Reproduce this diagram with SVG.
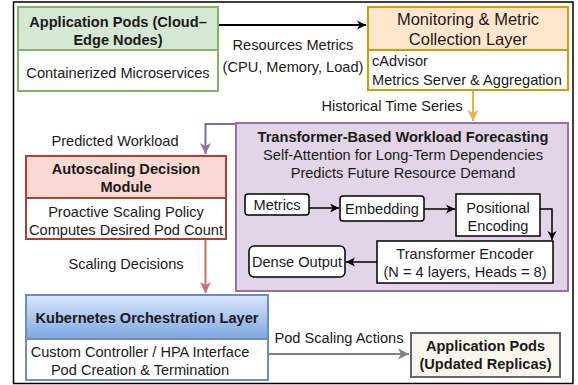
<svg xmlns="http://www.w3.org/2000/svg" width="578" height="385" viewBox="0 0 578 385">
<defs>
<linearGradient id="kg" x1="0" y1="0" x2="0" y2="1"><stop offset="0" stop-color="#dae8fc"/><stop offset="1" stop-color="#7ea6e0"/></linearGradient>
<marker id="aK" markerWidth="10" markerHeight="10" refX="9" refY="5" orient="auto" markerUnits="userSpaceOnUse"><path d="M0,0.5 L9,5 L0,9.5 L2.5,5 Z" fill="#000"/></marker>
<marker id="aY" markerWidth="12" markerHeight="12" refX="11" refY="6" orient="auto" markerUnits="userSpaceOnUse"><path d="M0,0.5 L11,6 L0,11.5 L3,6 Z" fill="#e3b448"/></marker>
<marker id="aP" markerWidth="12" markerHeight="12" refX="11" refY="6" orient="auto" markerUnits="userSpaceOnUse"><path d="M0,0.5 L11,6 L0,11.5 L3,6 Z" fill="#9673a6"/></marker>
<marker id="aR" markerWidth="12" markerHeight="12" refX="11" refY="6" orient="auto" markerUnits="userSpaceOnUse"><path d="M0,0.5 L11,6 L0,11.5 L3,6 Z" fill="#cc6e6a"/></marker>
<marker id="aG" markerWidth="12" markerHeight="12" refX="11" refY="6" orient="auto" markerUnits="userSpaceOnUse"><path d="M0,0.5 L11,6 L0,11.5 L3,6 Z" fill="#808080"/></marker>
</defs>
<style>
text{font-family:"Liberation Sans",Arial,sans-serif;font-size:14.6px;fill:#1a1a1a}
.b{font-weight:bold}
.c{text-anchor:middle}
.h{font-size:16.5px}
</style>
<rect x="13.5" y="2" width="559.5" height="381.5" fill="#fff" stroke="#000" stroke-width="1.5"/>

<g id="transformer">
<rect x="236" y="123" width="332" height="168" fill="#e1d5e7" stroke="#9673a6" stroke-width="2"/>
<text class="b c" x="403" y="142">Transformer-Based Workload Forecasting</text>
<text class="c" x="403" y="160">Self-Attention for Long-Term Dependencies</text>
<text class="c" x="403" y="178">Predicts Future Resource Demand</text>
</g>

<g id="connectors" fill="none">
<path d="M218,25 H366" stroke="#000" stroke-width="2" marker-end="url(#aK)"/>
<path d="M473,91 V121" stroke="#e3b448" stroke-width="2" marker-end="url(#aY)"/>
<path d="M235,124 H205.5 V154" stroke="#7a6c9c" stroke-width="2" marker-end="url(#aP)"/>
<path d="M205.5,239 V293" stroke="#cc6e6a" stroke-width="2" marker-end="url(#aR)"/>
<path d="M268,354 H409" stroke="#808080" stroke-width="2" marker-end="url(#aG)"/>
<path d="M309,208 H339" stroke="#000" stroke-width="1.5" marker-end="url(#aK)"/>
<path d="M424,209 H455" stroke="#000" stroke-width="1.5" marker-end="url(#aK)"/>
<path d="M540,209 H552 V240" stroke="#000" stroke-width="1.5" marker-end="url(#aK)"/>
<path d="M377,262 H346" stroke="#000" stroke-width="1.5" marker-end="url(#aK)"/>
<text class="c" x="293" y="50">Resources Metrics</text>
<text class="c" x="293" y="72">(CPU, Memory, Load)</text>
<text class="c" x="392" y="111">Historical Time Series</text>
<text class="c" x="115" y="146">Predicted Workload</text>
<text class="c" x="126" y="269">Scaling Decisions</text>
<text class="c" x="339" y="343">Pod Scaling Actions</text>
</g>

<g id="app-pods">
<rect x="18" y="7" width="200" height="43" fill="#d5e8d4" stroke="#82b366" stroke-width="2"/>
<rect x="18" y="50" width="200" height="41" fill="#fff" stroke="#82b366" stroke-width="2"/>
<text class="b c" x="118" y="27">Application Pods (Cloud–</text>
<text class="b c" x="118" y="45">Edge Nodes)</text>
<text class="c" x="118" y="78">Containerized Microservices</text>
</g>

<g id="monitoring">
<rect x="368" y="7" width="200" height="43" fill="#ffe6cc" stroke="#d79b00" stroke-width="2"/>
<rect x="368" y="50" width="200" height="40" fill="#fff" stroke="#d79b00" stroke-width="2"/>
<text class="c h" x="468" y="25">Monitoring &amp; Metric</text>
<text class="c h" x="468" y="45">Collection Layer</text>
<text x="372" y="66">cAdvisor</text>
<text x="372" y="85">Metrics Server &amp; Aggregation</text>
</g>

<g id="metrics">
<rect x="245" y="194" width="64" height="21" rx="3" fill="#fff" stroke="#000" stroke-width="1.5"/>
<text class="c" x="277" y="210">Metrics</text>
</g>
<g id="embedding">
<rect x="340" y="196" width="84" height="25" rx="3" fill="#fff" stroke="#000" stroke-width="1.5"/>
<text class="c" x="382" y="214">Embedding</text>
</g>
<g id="positional">
<rect x="456" y="194" width="84" height="42" fill="#fff" stroke="#000" stroke-width="1.5"/>
<text class="c" x="498" y="213">Positional</text>
<text class="c" x="498" y="231">Encoding</text>
</g>
<g id="encoder">
<rect x="377" y="241" width="176" height="42" fill="#fff" stroke="#000" stroke-width="1.5"/>
<text class="c" x="465" y="259">Transformer Encoder</text>
<text class="c" x="465" y="277">(N = 4 layers, Heads = 8)</text>
</g>
<g id="dense">
<rect x="249" y="246" width="96" height="31" rx="5" fill="#fff" stroke="#000" stroke-width="1.5"/>
<text class="c" x="297" y="267">Dense Output</text>
</g>

<g id="autoscaling">
<rect x="26" y="156" width="200" height="42" fill="#fad9d5" stroke="#ae4132" stroke-width="2"/>
<rect x="26" y="198" width="200" height="41" fill="#fff" stroke="#ae4132" stroke-width="2"/>
<text class="b c" x="126" y="174">Autoscaling Decision</text>
<text class="b c" x="126" y="192">Module</text>
<text class="c" x="126" y="217">Proactive Scaling Policy</text>
<text class="c" x="126" y="235">Computes Desired Pod Count</text>
</g>

<g id="kubernetes">
<rect x="26" y="295" width="242" height="44" fill="url(#kg)" stroke="#6c8ebf" stroke-width="2"/>
<rect x="26" y="339" width="242" height="41" fill="#fff" stroke="#6c8ebf" stroke-width="2"/>
<text class="b c" x="147" y="323">Kubernetes Orchestration Layer</text>
<text class="c" x="140" y="357">Custom Controller / HPA Interface</text>
<text class="c" x="140" y="375">Pod Creation &amp; Termination</text>
</g>

<g id="app-pods-updated">
<rect x="411" y="333" width="149" height="44" fill="#f9f7ed" stroke="#666" stroke-width="2"/>
<text class="b c" x="485.5" y="351">Application Pods</text>
<text class="b c" x="485.5" y="369">(Updated Replicas)</text>
</g>
</svg>
